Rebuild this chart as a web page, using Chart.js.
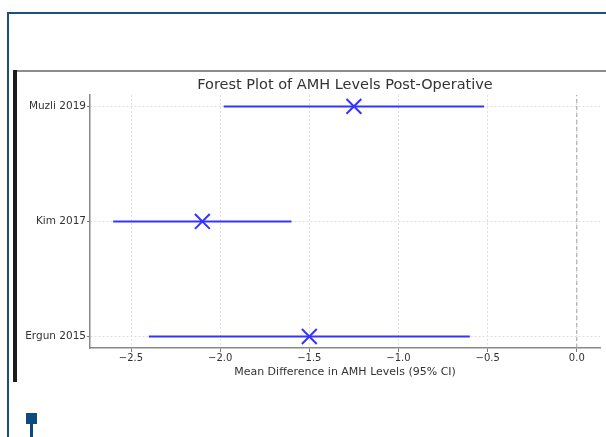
<!DOCTYPE html>
<html>
<head>
<meta charset="utf-8">
<script src="https://cdn.jsdelivr.net/npm/chart.js@4"></script>
<style>
    html, body { margin: 0; padding: 0; background: #fff; }
    #page { position: relative; width: 606px; height: 437px; overflow: hidden; }
    .deco { position: absolute; }
    #chart-box { position: absolute; left: 0; top: 0; width: 606px; height: 437px; }
</style>
</head>
<body>
<div id="page">
    <!-- 바깥 프레임 / 장식 -->
    <div class="deco" style="left:7px; top:12px; width:599px; height:2px; background:#1b4f80;"></div>
    <div class="deco" style="left:7px; top:12px; width:2px; height:425px; background:#1b4f80;"></div>
    <div class="deco" style="left:13px; top:70px; width:4px; height:312px; background:#1c1c1c;"></div>
    <div class="deco" style="left:17px; top:70px; width:589px; height:2px; background:#8c8c8c;"></div>
    <div class="deco" style="left:26px; top:413px; width:11px; height:11px; background:#0d4a80;"></div>
    <div class="deco" style="left:30px; top:424px; width:3px; height:13px; background:#0d4a80;"></div>

    <div id="chart-box"><canvas id="forestChart" width="606" height="437"></canvas></div>
</div>

<script>
// --- 데이터 ---
const studies = ['Ergun 2015', 'Kim 2017', 'Muzli 2019'];   // 아래 -> 위
const meanDiff = [-1.5, -2.1, -1.25];
const ciLow = [-2.4, -2.6, -1.98];
const ciHigh = [-0.6, -1.6, -0.52];
const xTicks = [-2.5, -2.0, -1.5, -1.0, -0.5, 0.0];

const blue = '#3434ff';
const font = 'DejaVu Sans';

// 신뢰구간 선 (연구별 하나씩)
const ciSets = studies.map((s, i) => ({
    label: s + ' CI',
    data: [{ x: ciLow[i], y: i }, { x: ciHigh[i], y: i }],
    showLine: true,
    borderColor: blue,
    borderWidth: 2,
    pointRadius: 0
}));

const meanSet = {
    label: 'Mean difference',
    data: studies.map((s, i) => ({ x: meanDiff[i], y: i })),
    pointStyle: 'crossRot',
    pointRadius: 10.5,
    borderColor: blue,
    backgroundColor: blue,
    pointBorderWidth: 2
};

// 0 기준 점선
const zeroSet = {
    label: 'zero',
    data: [{ x: 0, y: -0.1 }, { x: 0, y: studies.length - 0.9 }],
    showLine: true,
    borderColor: '#a0a0a0',
    borderWidth: 1,
    borderDash: [4, 3],
    pointRadius: 0
};

const fmtTick = v => (v < 0 ? '\u2212' : '') + Math.abs(v).toFixed(1);

new Chart(document.getElementById('forestChart'), {
    type: 'scatter',
    data: { datasets: [meanSet, ...ciSets, zeroSet] },
    options: {
        responsive: false,
        animation: false,
        // autoPadding 이 마커 반경만큼 여백을 더하므로 끔
        layout: { autoPadding: false, padding: { left: 20, right: 6, top: 0, bottom: 0 } },
        scales: {
            x: {
                type: 'linear',
                min: -2.73,
                max: 0.13,
                afterFit: scale => {
                    scale.height = 89;
                    scale.paddingLeft = 0;
                    scale.paddingRight = 0;
                },
                afterBuildTicks: axis => { axis.ticks = xTicks.map(v => ({ value: v })); },
                ticks: {
                    callback: v => fmtTick(v),
                    font: { family: font, size: 10 },
                    color: '#333',
                    padding: 0,
                    maxRotation: 0,
                    autoSkip: false
                },
                grid: { color: '#dedede', lineWidth: 1, tickLength: 4, tickColor: '#777' },
                border: { color: '#888', width: 1.5, dash: [2, 2] },
                title: {
                    display: true,
                    text: 'Mean Difference in AMH Levels (95% CI)',
                    font: { family: font, size: 11 },
                    color: '#333',
                    padding: { top: 0, bottom: 58.5 }
                }
            },
            y: {
                type: 'linear',
                min: -0.1,
                max: studies.length - 0.9,
                afterFit: scale => { scale.width = 70; },
                afterBuildTicks: axis => { axis.ticks = studies.map((s, i) => ({ value: i })); },
                ticks: {
                    callback: v => studies[v],
                    font: { family: font, size: 10.5 },
                    color: '#333',
                    padding: 1,
                    autoSkip: false
                },
                grid: { color: '#dedede', lineWidth: 1, tickLength: 3, tickColor: '#777' },
                border: { color: '#888', width: 1.5, dash: [2, 2] }
            }
        },
        plugins: {
            legend: { display: false },
            tooltip: { enabled: false },
            title: {
                display: true,
                text: 'Forest Plot of AMH Levels Post-Operative',
                fullSize: false,
                font: { family: font, size: 14.5, weight: 'normal', lineHeight: 1.2 },
                color: '#333',
                padding: { top: 77, bottom: 0.5 }
            }
        }
    }
});
</script>
</body>
</html>
